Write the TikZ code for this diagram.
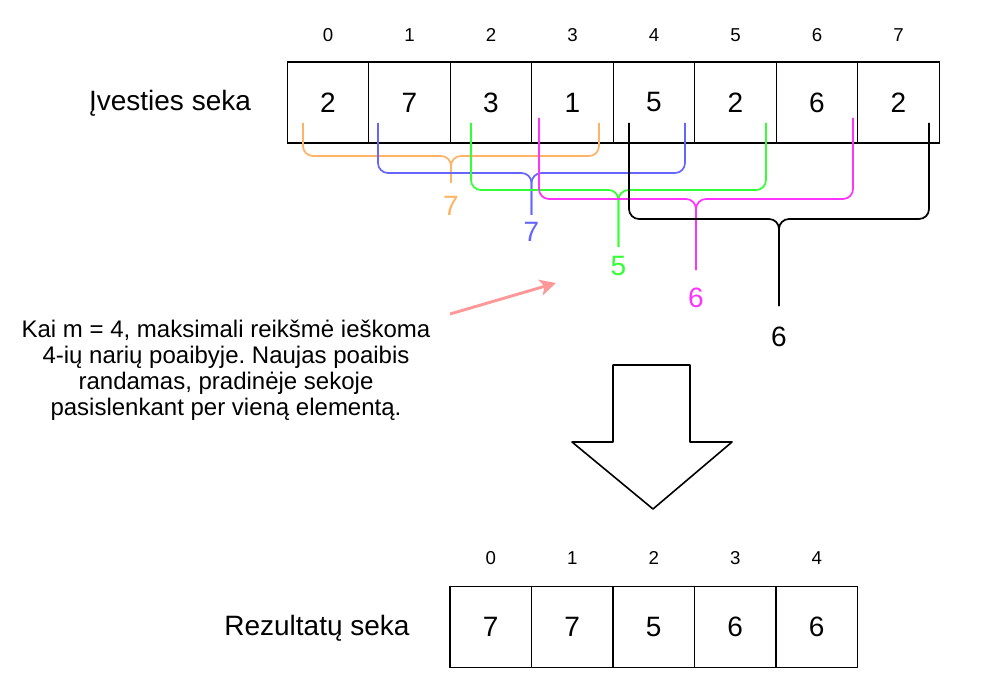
\documentclass[tikz,border=0pt]{standalone}
\usepackage{fontspec}
\setmainfont{Liberation Sans}
\usetikzlibrary{arrows.meta}
\tikzset{>=stealth}
\frenchspacing
\definecolor{braceorange}{HTML}{FFB366}
\definecolor{braceblue}{HTML}{6666FF}
\definecolor{bracegreen}{HTML}{33FF33}
\definecolor{bracemagenta}{HTML}{FF33FF}
\definecolor{notepink}{HTML}{FF9999}
\tikzset{
  cell/.style={draw, line width=1pt, minimum width=61.1pt, minimum height=60.75pt, inner sep=0pt, font=\fontsize{21}{24}\selectfont},
  idx/.style={font=\fontsize{14}{16}\selectfont},
  lbl/.style={font=\fontsize{21}{24}\selectfont},
  bracket/.style={line width=1.3pt, rounded corners=7.5pt},
  bracelabel/.style={font=\fontsize{21}{24}\selectfont},
}

\begin{document}
\begin{tikzpicture}[x=0.75pt,y=-0.75pt]
        \useasboundingbox (0,0) rectangle (988,684);
        % ivesties seka
        \node[lbl] (inlabel) at (170,103) {Įvesties seka};
        \foreach \v [count=\i from 0] in {2,7,3,1,5,2,6,2} {
            \node[cell] (in\i) at ({328+81.5*\i},102.5) {\v};
            \node[idx] (ii\i) at ({328+81.5*\i},35) {\i};
        }
        % poaibiu skliaustai
        \foreach \l/\r/\t/\h/\e/\y/\c/\v [count=\k] in {303/599/123/156/183/206/braceorange/7,
                378/685/123/173/215/232/braceblue/7, 471/766/123/190/247/266/bracegreen/5,
                539/853/118/199/270/298/bracemagenta/6, 629/929/123/219/306/337/black/6} {
            \pgfmathsetmacro\m{(\l+\r)/2}
            \draw[bracket, \c] (\l,\t) |- (\m,\h) -- (\m,\e);
            \draw[bracket, \c] (\r,\t) |- (\m,\h) -- (\m,\e);
            \node[bracelabel, text=\c] (max\k) at (\m,\y) {\v};
        }
        % paaiskinimas
        \node[align=center, font=\fontsize{18}{19.5}\selectfont] (note) at (226,370)
            {Kai m = 4, maksimali reikšmė ieškoma\\4-ių narių poaibyje. Naujas poaibis\\randamas, pradinėje sekoje\\pasislenkant per vieną elementą.};
        \coordinate (notetail) at (450,314);
        \coordinate (notehead) at (556,283);
        \draw[-{Stealth[length=12pt, width=12pt, inset=3pt]}, notepink, line width=2.2pt] (notetail) -- (notehead);
        % rodykle zemyn
        \draw[line width=1.2pt, line join=round] (613,365) -- (690,365) -- (690,442) -- (732,442)
            -- (653,509) -- (572,442) -- (613,442) -- cycle;
        % rezultatu seka
        \node[lbl] (outlabel) at (317,628) {Rezultatų seka};
        \foreach \v [count=\i from 0] in {7,7,5,6,6} {
            \node[cell] (out\i) at ({490.75+81.5*\i},627) {\v};
            \node[idx] (oi\i) at ({490.75+81.5*\i},558) {\i};
        }
    \end{tikzpicture}
\end{document}
